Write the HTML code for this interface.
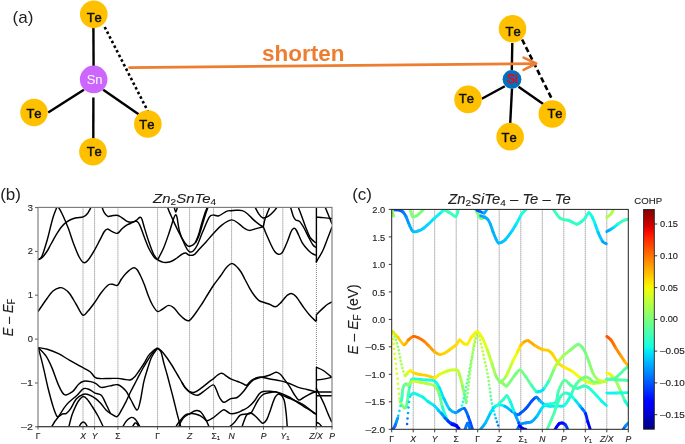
<!DOCTYPE html>
<html><head><meta charset="utf-8"><style>
html,body{margin:0;padding:0;background:#fff;}
svg{display:block;will-change:transform;}
text{font-family:"Liberation Sans",sans-serif;}
text.mt{stroke:#222;stroke-width:0.12px;}
</style></head><body>
<svg width="685" height="444" viewBox="0 0 685 444">
<rect width="685" height="444" fill="#fff"/>
<text x="12.6" y="23.3" font-size="17" fill="#222">(a)</text>
<g stroke="#000" stroke-width="2.4" stroke-linecap="butt" fill="none">
<line x1="93.4" y1="27" x2="93.6" y2="66"/>
<line x1="83.9" y1="89.7" x2="48.2" y2="112.5"/>
<line x1="93.4" y1="97.4" x2="93.3" y2="139"/>
<line x1="103.2" y1="89.7" x2="138.6" y2="114.2"/>
</g>
<line x1="104.7" y1="27" x2="148" y2="111.5" stroke="#000" stroke-width="2.6" stroke-dasharray="2.6 2.6"/>
<text x="262" y="60.8" font-size="22.5" font-weight="bold" fill="#ED7D31">shorten</text>
<circle cx="93.75" cy="14.35" r="13.80" fill="#FFC000"/>
<text x="94.25" y="21.51" font-size="13.0" fill="#111" text-anchor="middle" style="font-kerning:none" stroke="#111" stroke-width="0.45">Te</text>
<circle cx="93.65" cy="79.40" r="13.80" fill="#CC66FF"/>
<text x="94.60" y="84.41" font-size="13.0" fill="#fff" text-anchor="middle" style="font-kerning:none">Sn</text>
<circle cx="34.00" cy="112.50" r="13.75" fill="#FFC000"/>
<text x="34.00" y="117.71" font-size="13.0" fill="#111" text-anchor="middle" style="font-kerning:none" stroke="#111" stroke-width="0.45">Te</text>
<circle cx="92.95" cy="151.75" r="13.80" fill="#FFC000"/>
<text x="94.25" y="156.31" font-size="13.0" fill="#111" text-anchor="middle" style="font-kerning:none" stroke="#111" stroke-width="0.45">Te</text>
<circle cx="147.85" cy="123.95" r="13.80" fill="#FFC000"/>
<text x="146.95" y="129.41" font-size="13.0" fill="#111" text-anchor="middle" style="font-kerning:none" stroke="#111" stroke-width="0.45">Te</text>
<g stroke="#000" stroke-width="2.4" fill="none">
<line x1="512.3" y1="43" x2="511.8" y2="70"/>
<line x1="504.8" y1="86.2" x2="481.8" y2="98.8"/>
<line x1="512" y1="88.5" x2="510.2" y2="123.5"/>
<line x1="518.5" y1="86.7" x2="543.2" y2="104.1"/>
</g>
<line x1="522.1" y1="39.5" x2="552.2" y2="99.6" stroke="#000" stroke-width="2.6" stroke-dasharray="5.5 3"/>
<g stroke="#ED7D31" stroke-width="2.6" fill="none" stroke-linecap="round" stroke-linejoin="round">
<line x1="129.5" y1="67.6" x2="535" y2="63.6"/>
<polyline points="523.6,57.6 536.2,63.5 523.6,69.8"/>
</g>
<circle cx="512.50" cy="28.75" r="13.80" fill="#FFC000"/>
<text x="513.10" y="36.01" font-size="13.0" fill="#111" text-anchor="middle" style="font-kerning:none" stroke="#111" stroke-width="0.45">Te</text>
<circle cx="512.00" cy="79.30" r="9.40" fill="#0070C0"/>
<text x="512.15" y="83.04" font-size="12.4" fill="#FF0000" text-anchor="middle" style="font-kerning:none" stroke="#FF0000" stroke-width="0.45">Si</text>
<circle cx="468.05" cy="99.40" r="13.80" fill="#FFC000"/>
<text x="466.35" y="103.41" font-size="13.0" fill="#111" text-anchor="middle" style="font-kerning:none" stroke="#111" stroke-width="0.45">Te</text>
<circle cx="510.15" cy="136.65" r="13.80" fill="#FFC000"/>
<text x="509.20" y="142.41" font-size="13.0" fill="#111" text-anchor="middle" style="font-kerning:none" stroke="#111" stroke-width="0.45">Te</text>
<circle cx="552.30" cy="113.95" r="13.80" fill="#FFC000"/>
<text x="555.00" y="117.61" font-size="13.0" fill="#111" text-anchor="middle" style="font-kerning:none" stroke="#111" stroke-width="0.45">Te</text>
<text x="0.2" y="199.8" font-size="17" fill="#222">(b)</text>
<text class="mt" x="153.1" y="202.8" font-size="13.6" font-style="italic" fill="#222" textLength="63.1" lengthAdjust="spacingAndGlyphs">Zn<tspan font-size="9.2" dy="2.4" font-style="normal">2</tspan><tspan dy="-2.4">SnTe</tspan><tspan font-size="9.2" dy="2.4" font-style="normal">4</tspan></text>
<text class="mt" transform="translate(12.9,317.5) rotate(-90)" font-size="14" font-style="italic" text-anchor="middle" fill="#222" textLength="37.5" lengthAdjust="spacingAndGlyphs">E <tspan font-style="normal">–</tspan> E<tspan font-size="10" dy="2.2" font-style="normal">F</tspan></text>
<g stroke="#444" stroke-width="0.7" stroke-dasharray="1 1">
<line x1="83.0" y1="207.4" x2="83.0" y2="426.6"/>
<line x1="94.6" y1="207.4" x2="94.6" y2="426.6"/>
<line x1="117.9" y1="207.4" x2="117.9" y2="426.6"/>
<line x1="157.6" y1="207.4" x2="157.6" y2="426.6"/>
<line x1="189.6" y1="207.4" x2="189.6" y2="426.6"/>
<line x1="213.6" y1="207.4" x2="213.6" y2="426.6"/>
<line x1="231.6" y1="207.4" x2="231.6" y2="426.6"/>
<line x1="263.5" y1="207.4" x2="263.5" y2="426.6"/>
<line x1="282.8" y1="207.4" x2="282.8" y2="426.6"/>
<line x1="316.4" y1="262" x2="316.4" y2="367"/>
</g>
<text class="mt" x="38.0" y="438.6" font-size="8.6" text-anchor="middle" fill="#222">Γ</text>
<text class="mt" x="83.0" y="438.6" font-size="8.6" text-anchor="middle" fill="#222" font-style="italic">X</text>
<text class="mt" x="94.6" y="438.6" font-size="8.6" text-anchor="middle" fill="#222" font-style="italic">Y</text>
<text class="mt" x="117.9" y="438.6" font-size="8.6" text-anchor="middle" fill="#222">Σ</text>
<text class="mt" x="157.6" y="438.6" font-size="8.6" text-anchor="middle" fill="#222">Γ</text>
<text class="mt" x="189.6" y="438.6" font-size="8.6" text-anchor="middle" fill="#222" font-style="italic">Z</text>
<text class="mt" x="215.8" y="438.6" font-size="8.6" text-anchor="middle" fill="#222">Σ<tspan font-size="6.2" dy="1.8" font-style="normal">1</tspan></text>
<text class="mt" x="231.6" y="438.6" font-size="8.6" text-anchor="middle" fill="#222" font-style="italic">N</text>
<text class="mt" x="263.5" y="438.6" font-size="8.6" text-anchor="middle" fill="#222" font-style="italic">P</text>
<text class="mt" x="285.0" y="438.6" font-size="8.6" text-anchor="middle" fill="#222" font-style="italic">Y<tspan font-size="6.2" dy="1.8" font-style="normal">1</tspan></text>
<text class="mt" x="316.0" y="438.6" font-size="8.6" text-anchor="middle" fill="#222" font-style="italic">Z/X</text>
<text class="mt" x="332.0" y="438.6" font-size="8.6" text-anchor="middle" fill="#222" font-style="italic">P</text>
<text class="mt" x="32.9" y="210.6" font-size="8.4" text-anchor="end" fill="#222" textLength="5.2" lengthAdjust="spacingAndGlyphs">3</text>
<line x1="35" y1="207.6" x2="38" y2="207.6" stroke="#333" stroke-width="0.8"/>
<text class="mt" x="32.9" y="254.4" font-size="8.4" text-anchor="end" fill="#222" textLength="5.2" lengthAdjust="spacingAndGlyphs">2</text>
<line x1="35" y1="251.4" x2="38" y2="251.4" stroke="#333" stroke-width="0.8"/>
<text class="mt" x="32.9" y="298.2" font-size="8.4" text-anchor="end" fill="#222" textLength="5.2" lengthAdjust="spacingAndGlyphs">1</text>
<line x1="35" y1="295.2" x2="38" y2="295.2" stroke="#333" stroke-width="0.8"/>
<text class="mt" x="32.9" y="342.1" font-size="8.4" text-anchor="end" fill="#222" textLength="5.2" lengthAdjust="spacingAndGlyphs">0</text>
<line x1="35" y1="339.1" x2="38" y2="339.1" stroke="#333" stroke-width="0.8"/>
<text class="mt" x="32.9" y="386.0" font-size="8.4" text-anchor="end" fill="#222" textLength="11.9" lengthAdjust="spacingAndGlyphs">–1</text>
<line x1="35" y1="383.0" x2="38" y2="383.0" stroke="#333" stroke-width="0.8"/>
<text class="mt" x="32.9" y="429.8" font-size="8.4" text-anchor="end" fill="#222" textLength="11.9" lengthAdjust="spacingAndGlyphs">–2</text>
<line x1="35" y1="426.8" x2="38" y2="426.8" stroke="#333" stroke-width="0.8"/>
<line x1="38.0" y1="426.6" x2="38.0" y2="429.6" stroke="#333" stroke-width="0.8"/>
<line x1="83.0" y1="426.6" x2="83.0" y2="429.6" stroke="#333" stroke-width="0.8"/>
<line x1="94.6" y1="426.6" x2="94.6" y2="429.6" stroke="#333" stroke-width="0.8"/>
<line x1="117.9" y1="426.6" x2="117.9" y2="429.6" stroke="#333" stroke-width="0.8"/>
<line x1="157.6" y1="426.6" x2="157.6" y2="429.6" stroke="#333" stroke-width="0.8"/>
<line x1="189.6" y1="426.6" x2="189.6" y2="429.6" stroke="#333" stroke-width="0.8"/>
<line x1="213.6" y1="426.6" x2="213.6" y2="429.6" stroke="#333" stroke-width="0.8"/>
<line x1="231.6" y1="426.6" x2="231.6" y2="429.6" stroke="#333" stroke-width="0.8"/>
<line x1="263.5" y1="426.6" x2="263.5" y2="429.6" stroke="#333" stroke-width="0.8"/>
<line x1="282.8" y1="426.6" x2="282.8" y2="429.6" stroke="#333" stroke-width="0.8"/>
<line x1="316.0" y1="426.6" x2="316.0" y2="429.6" stroke="#333" stroke-width="0.8"/>
<line x1="332.0" y1="426.6" x2="332.0" y2="429.6" stroke="#333" stroke-width="0.8"/>
<defs><clipPath id="cb"><rect x="38.0" y="207.4" width="294.0" height="219.2"/></clipPath>
<clipPath id="cc"><rect x="391.7" y="209.4" width="236.6" height="219.9"/></clipPath>
<linearGradient id="jetg" x1="0" y1="0" x2="0" y2="1"><stop offset="0.000" stop-color="#800000"/><stop offset="0.025" stop-color="#9c0000"/><stop offset="0.050" stop-color="#b90000"/><stop offset="0.075" stop-color="#d60000"/><stop offset="0.100" stop-color="#f30900"/><stop offset="0.125" stop-color="#ff2100"/><stop offset="0.150" stop-color="#ff3900"/><stop offset="0.175" stop-color="#ff5000"/><stop offset="0.200" stop-color="#ff6800"/><stop offset="0.225" stop-color="#ff8000"/><stop offset="0.250" stop-color="#ff9700"/><stop offset="0.275" stop-color="#ffaf00"/><stop offset="0.300" stop-color="#ffc600"/><stop offset="0.325" stop-color="#ffde00"/><stop offset="0.350" stop-color="#f7f600"/><stop offset="0.375" stop-color="#e2ff15"/><stop offset="0.400" stop-color="#ceff29"/><stop offset="0.425" stop-color="#b9ff3e"/><stop offset="0.450" stop-color="#a5ff52"/><stop offset="0.475" stop-color="#90ff67"/><stop offset="0.500" stop-color="#7bff7b"/><stop offset="0.525" stop-color="#67ff90"/><stop offset="0.550" stop-color="#52ffa5"/><stop offset="0.575" stop-color="#3effb9"/><stop offset="0.600" stop-color="#29ffce"/><stop offset="0.625" stop-color="#15ffe2"/><stop offset="0.650" stop-color="#00e5f7"/><stop offset="0.675" stop-color="#00ccff"/><stop offset="0.700" stop-color="#00b2ff"/><stop offset="0.725" stop-color="#0099ff"/><stop offset="0.750" stop-color="#0080ff"/><stop offset="0.775" stop-color="#0066ff"/><stop offset="0.800" stop-color="#004dff"/><stop offset="0.825" stop-color="#0033ff"/><stop offset="0.850" stop-color="#0019ff"/><stop offset="0.875" stop-color="#0000ff"/><stop offset="0.900" stop-color="#0000f3"/><stop offset="0.925" stop-color="#0000d6"/><stop offset="0.950" stop-color="#0000b9"/><stop offset="0.975" stop-color="#00009c"/><stop offset="1.000" stop-color="#000080"/></linearGradient>
</defs>
<g clip-path="url(#cb)" fill="none" stroke="#000" stroke-width="1.45" stroke-linejoin="round">
<path d="M37.9 259.7 C38.2 259.6 39.3 259.4 40.0 258.8 C40.7 258.2 41.3 257.4 42.0 256.0 C42.7 254.6 43.1 253.3 44.0 250.5 C44.9 247.7 46.3 243.2 47.5 239.0 C48.7 234.8 50.0 228.8 51.0 225.0 C52.0 221.2 52.6 218.7 53.5 216.0 C54.4 213.3 55.7 210.1 56.3 208.6 C56.9 207.1 56.8 207.1 57.2 207.0 C57.7 206.9 58.0 206.7 59.0 208.2 C60.0 209.7 61.4 212.4 63.0 215.8 C64.6 219.2 66.6 223.9 68.4 228.6 C70.2 233.3 72.0 239.5 73.8 244.2 C75.6 248.9 77.6 254.0 79.2 257.0 C80.8 260.0 82.0 261.7 83.3 262.4 C84.6 263.1 85.5 262.9 87.3 261.0 C89.1 259.1 92.0 254.5 94.1 250.9 C96.2 247.3 98.4 242.8 100.1 239.7 C101.8 236.5 102.8 233.8 104.0 232.0 C105.2 230.2 105.9 229.2 107.2 229.1 C108.5 229.0 110.0 230.6 111.7 231.3 C113.4 232.0 115.8 233.7 117.5 233.3 C119.2 232.9 120.4 230.2 122.0 228.8 C123.6 227.4 125.4 225.9 127.1 224.9 C128.8 223.9 130.8 223.4 132.3 222.7 C133.8 221.9 134.8 221.3 136.1 220.4 C137.4 219.5 139.0 217.4 140.0 217.2 C141.0 217.0 141.2 217.3 141.9 219.1 C142.7 220.9 143.3 224.2 144.5 228.1 C145.7 232.0 147.5 238.0 149.0 242.3 C150.5 246.6 152.0 250.9 153.4 253.8 C154.8 256.7 156.9 258.9 157.6 259.9"/>
<path d="M37.9 259.7 C38.4 259.5 40.0 259.2 41.0 258.5 C42.0 257.8 42.9 256.8 44.0 255.5 C45.1 254.2 46.3 252.4 47.5 250.5 C48.7 248.6 49.5 246.6 51.0 244.0 C52.5 241.4 54.6 237.4 56.3 234.7 C58.0 231.9 59.4 229.5 61.0 227.5 C62.6 225.5 64.0 223.9 65.7 222.6 C67.4 221.3 69.2 220.3 71.0 219.5 C72.8 218.7 74.5 218.2 76.5 217.8 C78.5 217.4 81.5 217.6 83.3 216.9 C85.1 216.2 86.2 215.2 87.5 213.5 C88.8 211.8 90.8 207.7 91.4 206.5"/>
<path d="M101.5 205.5 C101.9 206.6 103.0 210.3 104.0 212.1 C105.0 213.9 106.3 215.7 107.8 216.3 C109.3 216.9 111.3 215.6 113.0 215.5 C114.7 215.4 116.4 215.1 117.9 215.5 C119.4 215.9 120.5 216.8 122.0 217.8 C123.5 218.8 125.6 220.7 127.1 221.4 C128.6 222.2 129.7 222.3 131.0 222.3 C132.3 222.3 133.7 221.5 134.8 221.4 C135.9 221.3 136.5 221.0 137.4 221.7 C138.3 222.4 138.9 223.2 140.0 225.6 C141.1 227.9 142.3 232.0 143.8 235.8 C145.3 239.7 147.3 245.2 149.0 248.7 C150.7 252.2 152.7 255.1 154.1 257.0 C155.5 258.9 157.0 259.4 157.6 259.9"/>
<path d="M174.0 206.3 C174.3 207.2 175.2 212.0 175.8 212.0 C176.4 212.0 177.3 207.2 177.6 206.3"/>
<path d="M167.2 206.0 C167.4 206.6 167.7 207.7 168.5 209.8 C169.3 211.9 170.9 215.4 172.3 218.5 C173.7 221.6 175.3 225.2 177.0 228.6 C178.7 232.0 180.7 236.0 182.4 238.8 C184.1 241.6 185.9 244.3 187.2 245.5 C188.4 246.7 188.7 246.5 189.9 246.2 C191.1 245.9 193.2 245.3 194.6 243.5 C196.0 241.7 197.2 238.5 198.3 235.5 C199.4 232.5 200.2 228.8 201.2 225.3 C202.2 221.8 203.6 217.2 204.5 214.5 C205.4 211.8 206.1 210.4 206.6 209.0 C207.1 207.6 207.4 206.5 207.6 206.0"/>
<path d="M195.5 243.0 C196.1 241.8 197.7 238.8 198.8 236.0 C199.9 233.2 200.9 229.5 202.0 226.0 C203.1 222.5 204.4 217.8 205.3 215.0 C206.2 212.2 206.9 210.5 207.4 209.0 C207.9 207.5 208.2 206.5 208.4 206.0"/>
<path d="M157.6 259.9 C158.6 257.9 161.6 252.6 163.5 248.2 C165.4 243.8 167.4 237.8 168.9 233.4 C170.4 229.0 171.6 224.9 172.5 222.0 C173.4 219.1 174.0 217.4 174.6 216.2 C175.2 215.0 175.4 214.6 175.8 214.8 C176.2 215.0 176.3 214.3 177.0 217.2 C177.7 220.1 178.3 227.3 179.7 232.0 C181.0 236.7 183.5 242.2 185.1 245.5 C186.7 248.8 187.8 250.7 189.2 251.6 C190.5 252.5 191.8 252.1 193.2 251.0 C194.6 249.9 195.9 248.0 197.5 244.8 C199.1 241.6 200.6 236.6 202.6 232.0 C204.6 227.4 207.5 220.0 209.3 217.2 C211.1 214.4 211.8 215.3 213.4 215.1 C215.0 214.9 216.6 216.5 218.8 215.8 C221.1 215.1 224.8 211.9 226.9 211.1 C229.0 210.2 230.1 210.8 231.6 210.7 C233.1 210.6 234.2 210.3 236.0 210.3 C237.8 210.3 240.5 210.0 242.4 210.6 C244.3 211.2 245.5 212.1 247.4 213.7 C249.3 215.2 251.5 218.1 253.6 219.9 C255.7 221.8 258.2 223.7 259.8 224.8 C261.4 225.9 262.7 226.4 263.3 226.7"/>
<path d="M157.6 259.9 C158.6 260.3 161.4 262.1 163.5 262.4 C165.6 262.7 168.1 262.5 170.3 261.8 C172.6 261.1 175.1 259.2 177.0 258.0 C178.9 256.8 180.1 255.3 181.5 254.5 C182.9 253.7 184.2 252.9 185.5 253.0 C186.8 253.1 188.1 255.1 189.6 255.3 C191.1 255.5 193.1 255.2 194.6 254.3 C196.1 253.4 196.6 252.1 198.5 250.0 C200.4 247.9 203.5 244.8 206.0 242.0 C208.5 239.2 210.8 236.3 213.4 233.5 C216.0 230.7 218.5 227.6 221.5 225.3 C224.5 223.0 228.7 220.1 231.6 219.9 C234.5 219.7 236.9 222.6 239.0 223.9 C241.1 225.2 242.3 226.9 244.0 228.0 C245.7 229.1 247.3 230.3 249.3 230.4 C251.3 230.5 253.8 229.2 256.1 228.6 C258.4 228.0 262.1 227.0 263.3 226.7"/>
<path d="M263.3 226.7 C263.6 225.6 264.2 221.9 264.8 219.9 C265.4 217.9 265.9 216.8 266.6 214.9 C267.3 213.0 268.5 210.2 269.1 208.7 C269.7 207.2 269.9 206.4 270.0 206.0"/>
<path d="M263.3 226.7 C263.8 227.8 264.7 230.5 266.0 233.5 C267.3 236.5 269.6 241.7 271.0 244.7 C272.4 247.7 273.5 249.9 274.7 251.5 C275.9 253.1 277.2 254.1 278.4 254.3 C279.6 254.5 280.7 254.7 282.1 252.7 C283.6 250.7 285.7 245.6 287.1 242.2 C288.6 238.8 289.8 234.6 290.8 232.3 C291.8 230.0 292.4 229.0 293.3 228.6 C294.2 228.2 294.7 227.6 296.2 230.0 C297.7 232.4 300.2 239.3 302.3 242.8 C304.4 246.3 307.2 249.1 309.0 251.0 C310.8 252.9 311.8 253.3 313.0 254.0 C314.2 254.7 315.5 255.1 316.0 255.3"/>
<path d="M254.5 206.0 C255.2 207.3 257.2 211.7 258.6 213.7 C260.0 215.7 261.2 217.6 262.9 218.0 C264.5 218.4 266.8 217.2 268.5 216.2 C270.2 215.2 271.8 213.5 273.4 211.8 C275.0 210.1 277.2 207.0 278.0 206.0"/>
<path d="M290.2 206.0 C290.7 207.7 292.4 213.9 293.3 216.2 C294.2 218.5 294.8 219.1 295.8 220.0 C296.9 220.9 298.2 220.2 299.6 221.5 C301.0 222.8 302.4 225.2 304.0 228.0 C305.6 230.8 307.5 235.2 309.0 238.0 C310.5 240.8 311.8 243.4 313.0 245.0 C314.2 246.6 315.5 247.1 316.0 247.5"/>
<path d="M297.8 206.0 C298.5 207.8 300.6 213.2 302.0 217.0 C303.4 220.8 305.0 225.5 306.4 229.0 C307.8 232.5 308.9 235.7 310.5 238.0 C312.1 240.3 315.1 242.2 316.0 243.0"/>
<path d="M316.0 217.2 C317.2 217.3 320.3 217.4 323.0 217.6 C325.7 217.8 330.5 218.3 332.0 218.5"/>
<path d="M324.6 206.0 C325.2 207.3 326.8 211.0 328.0 214.0 C329.2 217.0 331.3 222.3 332.0 224.0"/>
<path d="M316.0 262.4 C317.1 260.5 320.8 254.7 322.6 251.0 C324.4 247.3 325.4 244.0 327.0 240.0 C328.6 236.0 331.2 229.2 332.0 227.0"/>
<path d="M38.0 311.7 C39.5 309.4 44.7 301.6 47.2 298.2 C49.7 294.8 50.9 292.8 53.0 291.0 C55.1 289.2 57.7 288.0 59.6 287.7 C61.5 287.4 62.8 288.0 64.5 289.0 C66.2 290.0 67.8 291.2 69.7 293.7 C71.6 296.2 73.8 300.4 76.0 304.0 C78.2 307.6 80.8 313.9 82.8 315.1 C84.8 316.3 86.0 313.1 88.0 311.0 C90.0 308.9 92.3 305.7 94.5 302.7 C96.7 299.7 98.8 295.9 101.0 293.0 C103.2 290.1 106.0 286.7 107.9 285.2 C109.8 283.7 110.9 284.2 112.5 284.2 C114.1 284.2 115.9 286.3 117.4 285.4 C118.9 284.5 120.1 281.0 121.5 279.0 C122.9 277.0 124.0 275.4 125.9 273.5 C127.8 271.6 131.2 268.6 133.1 267.9 C134.9 267.2 135.8 268.2 137.0 269.5 C138.2 270.8 139.2 273.1 140.5 275.7 C141.8 278.3 143.2 281.6 144.5 285.0 C145.8 288.4 147.1 292.7 148.4 296.0 C149.7 299.3 151.0 302.4 152.5 305.0 C154.0 307.6 155.8 310.6 157.4 311.3 C159.0 312.1 160.1 310.5 162.0 309.5 C163.9 308.5 166.6 305.6 168.6 305.4 C170.6 305.1 172.1 306.4 174.0 308.0 C175.9 309.6 178.1 313.2 179.9 315.1 C181.7 317.0 183.4 318.6 185.0 319.5 C186.6 320.4 187.7 321.4 189.4 320.5 C191.1 319.6 192.8 316.9 195.0 314.0 C197.2 311.1 200.3 306.3 202.5 303.0 C204.7 299.7 206.1 297.0 208.0 294.0 C209.9 291.0 211.6 288.0 213.7 285.0 C215.8 282.0 218.4 278.8 220.5 276.0 C222.6 273.2 224.2 270.1 226.0 268.0 C227.8 265.9 229.7 264.0 231.3 263.6 C232.9 263.2 233.9 264.2 235.5 265.5 C237.1 266.8 239.1 269.2 240.7 271.5 C242.3 273.8 243.5 276.7 245.0 279.5 C246.5 282.3 248.2 285.7 249.7 288.3 C251.2 290.9 252.5 293.0 254.0 295.0 C255.5 297.0 257.0 299.1 258.7 300.3 C260.4 301.6 262.4 301.8 264.3 302.5 C266.2 303.2 268.1 303.8 270.0 304.5 C271.9 305.2 273.8 307.0 275.5 306.8 C277.2 306.6 278.7 304.7 280.0 303.5 C281.3 302.3 282.2 300.9 283.4 299.6 C284.6 298.3 285.7 296.5 287.0 295.5 C288.3 294.5 289.8 293.3 291.3 293.5 C292.8 293.7 293.9 294.2 296.0 296.5 C298.1 298.8 301.3 304.2 303.6 307.4 C305.9 310.6 307.9 313.2 310.0 315.5 C312.1 317.8 315.0 320.4 316.0 321.4"/>
<path d="M316.0 315.3 C316.6 314.7 318.2 312.8 319.5 311.5 C320.8 310.2 322.5 308.6 323.9 307.4 C325.3 306.1 326.6 304.9 328.0 304.0 C329.4 303.1 331.3 302.2 332.0 301.8"/>
<path d="M38.3 347.6 C39.8 347.9 43.9 348.2 47.3 349.2 C50.7 350.2 54.8 351.8 58.5 353.7 C62.2 355.6 66.0 358.2 69.8 360.4 C73.6 362.6 77.7 364.8 81.1 366.7 C84.5 368.6 87.8 369.9 90.1 371.7 C92.4 373.5 93.2 376.1 95.0 377.3 C96.8 378.5 98.5 378.4 101.0 378.6 C103.5 378.8 107.2 378.4 110.0 378.4 C112.8 378.4 115.6 378.3 117.9 378.4 C120.2 378.5 121.9 378.9 124.0 379.2 C126.1 379.5 128.5 380.4 130.3 380.0 C132.1 379.6 133.5 378.1 135.0 376.5 C136.5 374.9 137.8 372.7 139.3 370.5 C140.8 368.3 142.5 365.9 144.0 363.5 C145.5 361.1 146.8 358.0 148.3 355.9 C149.8 353.8 151.5 352.3 153.0 351.0 C154.5 349.7 156.7 348.5 157.4 348.0"/>
<path d="M38.3 347.6 C39.6 349.0 43.8 352.7 46.1 356.2 C48.4 359.7 50.2 363.7 52.2 368.4 C54.2 373.1 56.3 380.2 58.3 384.6 C60.3 389.0 62.0 393.5 64.4 394.7 C66.8 395.9 70.1 393.4 72.5 391.7 C74.9 389.9 76.8 385.9 78.6 384.2 C80.4 382.4 81.6 381.6 83.6 381.2 C85.6 380.8 88.6 381.2 90.7 381.6 C92.8 382.0 94.2 382.6 96.0 383.6 C97.8 384.6 99.0 387.0 101.3 387.4 C103.6 387.8 107.2 386.3 110.0 385.9 C112.8 385.5 115.3 384.0 117.9 384.8 C120.5 385.6 123.6 388.3 125.8 390.8 C128.0 393.3 129.1 396.8 131.0 400.0 C132.9 403.2 135.4 410.0 137.0 410.0 C138.6 410.0 139.4 404.7 140.5 400.0 C141.6 395.3 142.6 387.0 143.8 381.8 C145.0 376.6 146.2 373.1 147.5 369.0 C148.8 364.9 150.0 360.4 151.7 357.0 C153.3 353.6 156.4 349.9 157.4 348.5"/>
<path d="M38.3 347.6 C39.1 350.7 41.5 359.5 43.1 366.4 C44.8 373.2 46.5 381.9 48.2 388.7 C49.9 395.4 51.7 402.2 53.2 406.9 C54.7 411.5 55.8 415.4 57.3 416.6 C58.8 417.8 60.9 414.5 62.4 414.0 C63.9 413.5 65.1 414.2 66.4 413.4 C67.8 412.5 68.8 411.3 70.5 408.9 C72.2 406.5 74.3 401.2 76.5 398.8 C78.7 396.4 81.6 395.0 83.6 394.3 C85.6 393.6 86.6 393.9 88.7 394.7 C90.8 395.4 93.9 397.2 96.0 398.8 C98.1 400.4 99.6 402.1 101.3 404.0 C103.0 405.9 104.5 408.4 106.0 410.0 C107.5 411.6 108.6 412.2 110.4 413.3 C112.2 414.4 115.0 417.1 116.8 416.7 C118.6 416.3 119.5 413.4 121.0 411.0 C122.5 408.6 124.1 405.4 125.8 402.1 C127.5 398.8 129.1 394.8 131.0 391.0 C132.9 387.2 135.1 383.2 137.0 379.5 C138.9 375.8 140.6 372.4 142.5 369.0 C144.4 365.6 146.6 362.1 148.3 359.3 C150.1 356.6 151.5 354.4 153.0 352.5 C154.5 350.6 156.7 348.8 157.4 348.0"/>
<path d="M51.2 427.5 C51.8 426.6 53.3 423.8 54.5 422.0 C55.7 420.2 56.3 419.9 58.3 417.0 C60.3 414.1 63.4 408.4 66.4 404.9 C69.4 401.3 73.6 398.4 76.5 395.7 C79.4 393.0 81.4 389.7 83.6 388.7 C85.8 387.7 87.8 389.0 89.7 389.7 C91.6 390.4 93.1 392.2 95.0 393.1 C96.9 394.0 99.5 393.5 101.3 395.3 C103.1 397.1 104.5 401.0 106.0 404.0 C107.5 407.0 109.7 411.8 110.4 413.3"/>
<path d="M68.7 427.5 C69.2 425.4 70.7 418.9 72.0 415.0 C73.3 411.1 75.2 407.1 76.5 404.4 C77.8 401.7 78.9 400.3 80.0 399.0 C81.1 397.7 82.1 396.5 83.3 396.5 C84.5 396.5 85.5 397.3 87.0 399.0 C88.5 400.7 90.5 403.8 92.3 406.6 C94.1 409.4 96.1 412.5 98.0 416.0 C99.9 419.5 102.7 425.6 103.6 427.5"/>
<path d="M78.8 427.5 C79.2 426.8 80.2 424.4 81.0 423.5 C81.8 422.6 82.5 421.9 83.3 421.9 C84.0 421.9 84.8 422.6 85.5 423.5 C86.2 424.4 87.4 426.8 87.8 427.5"/>
<path d="M122.4 427.5 C123.0 426.5 124.5 423.2 126.0 421.5 C127.5 419.8 129.8 417.7 131.4 417.4 C133.0 417.1 134.0 417.8 135.5 419.5 C137.0 421.2 139.6 426.2 140.4 427.5"/>
<path d="M132.0 427.5 C132.5 426.8 134.1 423.5 135.0 423.0 C135.9 422.5 136.8 423.8 137.5 424.5 C138.2 425.2 138.8 427.0 139.0 427.5"/>
<path d="M157.4 348.0 C158.1 348.5 160.0 349.5 161.5 351.0 C163.0 352.5 164.6 354.6 166.3 357.0 C168.1 359.4 170.1 362.5 172.0 365.5 C173.9 368.5 175.9 372.2 177.6 375.0 C179.3 377.8 180.7 380.4 182.0 382.5 C183.3 384.6 184.0 386.3 185.3 387.8 C186.6 389.3 188.2 390.9 189.7 391.6 C191.2 392.4 192.7 392.8 194.5 392.3 C196.3 391.8 198.4 390.1 200.8 388.4 C203.2 386.7 206.6 383.7 208.7 382.1 C210.8 380.5 212.0 380.0 213.4 378.9 C214.8 377.8 215.8 376.4 217.0 375.5 C218.2 374.6 219.4 373.7 220.5 373.4 C221.6 373.1 222.6 373.4 223.5 373.8 C224.4 374.2 224.8 375.0 226.0 375.8 C227.2 376.6 228.8 378.0 230.7 378.9 C232.5 379.8 235.2 380.6 237.1 381.3 C239.0 382.0 240.4 382.6 242.0 383.2 C243.6 383.8 245.0 385.6 246.5 385.2 C248.0 384.8 249.3 381.8 251.2 380.5 C253.0 379.2 255.6 378.0 257.6 377.4 C259.6 376.8 260.9 377.3 263.0 376.9 C265.1 376.5 267.8 375.8 270.0 375.0 C272.2 374.2 274.3 372.5 276.0 372.3 C277.7 372.1 278.9 373.2 280.0 374.0 C281.1 374.8 281.2 375.2 282.8 377.3 C284.4 379.4 287.6 383.5 289.5 386.3 C291.4 389.1 292.5 391.8 294.0 394.0 C295.5 396.2 297.0 399.1 298.5 399.8 C300.0 400.5 301.5 398.8 303.0 398.0 C304.5 397.2 306.0 396.1 307.5 395.3 C309.0 394.5 310.6 393.6 312.0 393.0 C313.4 392.4 315.4 392.1 316.1 391.9"/>
<path d="M157.4 348.0 C158.0 348.7 159.9 349.4 161.0 352.0 C162.1 354.6 162.9 359.8 164.0 363.8 C165.1 367.8 166.4 371.9 167.5 376.0 C168.6 380.1 169.7 384.4 170.8 388.6 C171.9 392.8 172.9 396.5 174.0 401.0 C175.1 405.5 176.4 411.2 177.6 415.6 C178.8 420.0 180.4 425.5 181.0 427.5"/>
<path d="M182.0 382.5 C182.6 383.4 184.0 386.2 185.3 387.8 C186.6 389.4 188.3 391.2 189.7 392.3 C191.1 393.4 192.1 393.9 193.5 394.3 C194.9 394.8 196.4 395.7 198.4 395.0 C200.4 394.3 203.1 391.7 205.5 390.0 C207.9 388.3 211.3 385.1 213.1 384.9 C214.8 384.7 215.0 387.1 216.0 389.0 C217.0 390.9 218.0 394.4 218.9 396.3 C219.8 398.2 220.6 399.5 221.5 400.5 C222.4 401.5 222.9 402.6 224.4 402.3 C225.9 402.0 228.6 399.4 230.7 398.6 C232.8 397.8 235.0 398.7 237.1 397.5 C239.2 396.3 241.6 393.6 243.4 391.5 C245.2 389.4 246.5 387.0 248.1 385.2 C249.7 383.4 251.0 381.8 252.8 380.5 C254.6 379.2 257.4 378.2 259.1 377.7 C260.8 377.2 261.2 377.3 263.0 377.5 C264.8 377.7 267.8 378.6 270.0 379.0 C272.2 379.4 273.9 379.6 276.0 380.0 C278.1 380.4 280.5 380.8 282.8 381.4 C285.1 382.0 287.4 382.8 290.0 383.8 C292.6 384.8 295.7 386.4 298.5 387.4 C301.3 388.3 304.1 388.8 307.0 389.5 C309.9 390.2 314.6 391.5 316.1 391.9"/>
<path d="M175.3 427.5 C175.9 426.6 177.4 424.1 179.0 422.0 C180.6 419.9 183.2 416.6 185.0 415.2 C186.8 413.8 188.2 414.3 189.7 413.6 C191.2 412.9 192.8 411.7 194.0 411.2 C195.2 410.7 195.7 410.4 196.8 410.5 C197.9 410.6 199.4 410.6 200.8 412.0 C202.2 413.4 204.1 416.6 205.5 419.2 C206.9 421.8 208.8 426.1 209.4 427.5"/>
<path d="M178.5 427.5 C178.9 426.5 179.9 423.3 181.0 421.5 C182.1 419.7 183.3 417.8 185.0 416.5 C186.7 415.2 188.9 413.8 191.3 413.6 C193.7 413.4 197.1 414.4 199.2 415.2 C201.3 416.0 202.7 417.6 204.0 418.5 C205.3 419.4 205.5 420.8 207.1 420.7 C208.7 420.6 211.4 418.9 213.4 417.6 C215.4 416.3 217.3 414.3 219.0 413.0 C220.7 411.7 222.3 409.9 223.6 409.7 C224.9 409.4 225.8 410.9 227.0 411.5 C228.2 412.1 229.0 413.4 230.7 413.6 C232.4 413.8 235.0 413.4 237.1 412.8 C239.2 412.2 241.2 410.9 243.0 410.0 C244.8 409.1 246.2 408.8 248.1 407.3 C250.0 405.8 252.6 403.2 254.4 401.0 C256.2 398.8 257.7 395.5 259.1 393.9 C260.5 392.3 261.2 391.9 263.0 391.5 C264.8 391.1 267.1 391.0 270.0 391.3 C272.9 391.6 277.2 392.1 280.5 393.1 C283.8 394.1 287.0 395.8 290.0 397.5 C293.0 399.2 295.7 401.4 298.5 403.2 C301.3 405.0 304.1 406.7 307.0 408.5 C309.9 410.3 314.6 412.9 316.1 413.8"/>
<path d="M228.4 427.5 C229.3 426.8 231.9 425.2 233.9 423.1 C235.9 421.1 238.1 416.7 240.2 415.2 C242.3 413.7 244.7 414.4 246.5 414.0 C248.3 413.6 249.3 415.0 251.2 412.8 C253.0 410.6 255.6 404.1 257.6 401.0 C259.6 397.9 260.9 395.9 263.0 394.5 C265.1 393.1 267.8 392.9 270.0 392.5 C272.2 392.1 273.9 391.4 276.0 391.9 C278.1 392.4 280.5 394.2 282.8 395.3 C285.1 396.4 287.4 397.6 290.0 398.7 C292.6 399.8 295.8 400.8 298.5 402.1 C301.2 403.4 303.4 404.6 306.0 406.5 C308.6 408.4 312.6 412.1 314.3 413.3 C316.0 414.5 315.8 413.7 316.1 413.8"/>
<path d="M241.8 427.5 C242.2 426.4 243.2 423.1 244.0 421.0 C244.8 418.9 245.4 416.6 246.5 415.2 C247.6 413.8 248.9 412.5 250.5 412.8 C252.1 413.1 254.4 415.4 256.0 416.8 C257.6 418.2 258.8 419.9 260.0 421.0 C261.2 422.1 261.9 423.5 263.0 423.3 C264.1 423.1 265.4 421.7 266.5 420.0 C267.6 418.3 267.9 417.0 269.3 413.3 C270.7 409.6 273.2 400.8 274.9 397.6 C276.6 394.4 277.9 393.8 279.4 394.2 C280.9 394.6 282.9 396.8 284.0 399.8 C285.1 402.8 285.4 407.4 286.0 412.0 C286.6 416.6 287.1 424.9 287.3 427.5"/>
<path d="M316.1 367.2 C317.3 367.8 320.7 368.8 323.3 370.5 C325.9 372.2 330.5 376.2 331.9 377.3"/>
<path d="M316.1 380.0 C317.3 379.9 320.7 379.6 323.3 379.1 C325.9 378.7 330.5 377.6 331.9 377.3"/>
<path d="M316.1 391.9 C318.7 391.9 329.3 391.9 331.9 391.9"/>
<path d="M316.1 395.8 C318.7 395.8 329.3 395.8 331.9 395.8"/>
<path d="M316.1 388.1 C316.9 389.7 319.6 394.8 321.0 397.6 C322.4 400.4 323.4 402.4 324.5 405.0 C325.6 407.6 326.6 410.4 327.8 413.3 C329.0 416.2 331.2 420.8 331.9 422.3"/>
<path d="M316.1 422.3 C316.6 422.5 318.2 422.9 319.0 423.5 C319.8 424.1 320.5 425.0 321.0 425.7 C321.5 426.4 321.8 427.2 322.0 427.5"/>
</g>
<g stroke="#000" stroke-width="1.4">
<line x1="316.4" y1="207.4" x2="316.4" y2="262.4"/>
<line x1="316.4" y1="315.3" x2="316.4" y2="321.4"/>
<line x1="316.4" y1="367.2" x2="316.4" y2="426.6"/>
</g>
<rect x="38.0" y="207.4" width="294.0" height="219.2" fill="none" stroke="#777" stroke-width="1.1"/>
<line x1="37.5" y1="426.6" x2="332.5" y2="426.6" stroke="#444" stroke-width="1.1"/>
<text x="352.2" y="200.4" font-size="17" fill="#222">(c)</text>
<text class="mt" x="448.2" y="203.9" font-size="13.8" font-style="italic" fill="#222" textLength="122.6" lengthAdjust="spacingAndGlyphs">Zn<tspan font-size="9.4" dy="2.4" font-style="normal">2</tspan><tspan dy="-2.4">SiTe</tspan><tspan font-size="9.4" dy="2.4" font-style="normal">4</tspan><tspan dy="-2.4"> <tspan font-style="normal">–</tspan> Te <tspan font-style="normal">–</tspan> Te</tspan></text>
<text class="mt" transform="translate(358.4,354.6) rotate(-90)" font-size="14" font-style="italic" fill="#222" textLength="70.3" lengthAdjust="spacingAndGlyphs">E <tspan font-style="normal">–</tspan> E<tspan font-size="10" dy="2.2" font-style="normal">F</tspan><tspan dy="-2.2" font-style="normal"> (eV)</tspan></text>
<g stroke="#444" stroke-width="0.7" stroke-dasharray="1 1">
<line x1="413.2" y1="209.4" x2="413.2" y2="429.3"/>
<line x1="434.7" y1="209.4" x2="434.7" y2="429.3"/>
<line x1="456.2" y1="209.4" x2="456.2" y2="429.3"/>
<line x1="477.7" y1="209.4" x2="477.7" y2="429.3"/>
<line x1="499.2" y1="209.4" x2="499.2" y2="429.3"/>
<line x1="520.8" y1="209.4" x2="520.8" y2="429.3"/>
<line x1="542.3" y1="209.4" x2="542.3" y2="429.3"/>
<line x1="563.8" y1="209.4" x2="563.8" y2="429.3"/>
<line x1="585.3" y1="209.4" x2="585.3" y2="429.3"/>
<line x1="606.8" y1="209.4" x2="606.8" y2="429.3"/>
</g>
<text class="mt" x="391.7" y="441.6" font-size="8.6" text-anchor="middle" fill="#222">Γ</text>
<text class="mt" x="413.2" y="441.6" font-size="8.6" text-anchor="middle" fill="#222" font-style="italic">X</text>
<text class="mt" x="434.7" y="441.6" font-size="8.6" text-anchor="middle" fill="#222" font-style="italic">Y</text>
<text class="mt" x="456.2" y="441.6" font-size="8.6" text-anchor="middle" fill="#222">Σ</text>
<text class="mt" x="477.7" y="441.6" font-size="8.6" text-anchor="middle" fill="#222">Γ</text>
<text class="mt" x="499.2" y="441.6" font-size="8.6" text-anchor="middle" fill="#222" font-style="italic">Z</text>
<text class="mt" x="523.0" y="441.6" font-size="8.6" text-anchor="middle" fill="#222">Σ<tspan font-size="6.2" dy="1.8" font-style="normal">1</tspan></text>
<text class="mt" x="542.3" y="441.6" font-size="8.6" text-anchor="middle" fill="#222" font-style="italic">N</text>
<text class="mt" x="563.8" y="441.6" font-size="8.6" text-anchor="middle" fill="#222" font-style="italic">P</text>
<text class="mt" x="587.5" y="441.6" font-size="8.6" text-anchor="middle" fill="#222" font-style="italic">Y<tspan font-size="6.2" dy="1.8" font-style="normal">1</tspan></text>
<text class="mt" x="606.8" y="441.6" font-size="8.6" text-anchor="middle" fill="#222" font-style="italic">Z/X</text>
<text class="mt" x="628.3" y="441.6" font-size="8.6" text-anchor="middle" fill="#222" font-style="italic">P</text>
<text class="mt" x="385.2" y="213.0" font-size="8.4" text-anchor="end" fill="#222" textLength="12.9" lengthAdjust="spacingAndGlyphs">2.0</text>
<line x1="388.8" y1="209.4" x2="391.7" y2="209.4" stroke="#222" stroke-width="0.9"/>
<text class="mt" x="385.2" y="240.5" font-size="8.4" text-anchor="end" fill="#222" textLength="12.9" lengthAdjust="spacingAndGlyphs">1.5</text>
<line x1="388.8" y1="236.9" x2="391.7" y2="236.9" stroke="#222" stroke-width="0.9"/>
<text class="mt" x="385.2" y="268.0" font-size="8.4" text-anchor="end" fill="#222" textLength="12.9" lengthAdjust="spacingAndGlyphs">1.0</text>
<line x1="388.8" y1="264.4" x2="391.7" y2="264.4" stroke="#222" stroke-width="0.9"/>
<text class="mt" x="385.2" y="295.5" font-size="8.4" text-anchor="end" fill="#222" textLength="12.9" lengthAdjust="spacingAndGlyphs">0.5</text>
<line x1="388.8" y1="291.9" x2="391.7" y2="291.9" stroke="#222" stroke-width="0.9"/>
<text class="mt" x="385.2" y="323.0" font-size="8.4" text-anchor="end" fill="#222" textLength="12.9" lengthAdjust="spacingAndGlyphs">0.0</text>
<line x1="388.8" y1="319.4" x2="391.7" y2="319.4" stroke="#222" stroke-width="0.9"/>
<text class="mt" x="385.2" y="350.4" font-size="8.4" text-anchor="end" fill="#222" textLength="19.7" lengthAdjust="spacingAndGlyphs">–0.5</text>
<line x1="388.8" y1="346.8" x2="391.7" y2="346.8" stroke="#222" stroke-width="0.9"/>
<text class="mt" x="385.2" y="377.9" font-size="8.4" text-anchor="end" fill="#222" textLength="19.7" lengthAdjust="spacingAndGlyphs">–1.0</text>
<line x1="388.8" y1="374.3" x2="391.7" y2="374.3" stroke="#222" stroke-width="0.9"/>
<text class="mt" x="385.2" y="405.4" font-size="8.4" text-anchor="end" fill="#222" textLength="19.7" lengthAdjust="spacingAndGlyphs">–1.5</text>
<line x1="388.8" y1="401.8" x2="391.7" y2="401.8" stroke="#222" stroke-width="0.9"/>
<text class="mt" x="385.2" y="432.9" font-size="8.4" text-anchor="end" fill="#222" textLength="19.7" lengthAdjust="spacingAndGlyphs">–2.0</text>
<line x1="388.8" y1="429.3" x2="391.7" y2="429.3" stroke="#222" stroke-width="0.9"/>
<line x1="391.7" y1="429.3" x2="391.7" y2="432.3" stroke="#222" stroke-width="0.9"/>
<line x1="413.2" y1="429.3" x2="413.2" y2="432.3" stroke="#222" stroke-width="0.9"/>
<line x1="434.7" y1="429.3" x2="434.7" y2="432.3" stroke="#222" stroke-width="0.9"/>
<line x1="456.2" y1="429.3" x2="456.2" y2="432.3" stroke="#222" stroke-width="0.9"/>
<line x1="477.7" y1="429.3" x2="477.7" y2="432.3" stroke="#222" stroke-width="0.9"/>
<line x1="499.2" y1="429.3" x2="499.2" y2="432.3" stroke="#222" stroke-width="0.9"/>
<line x1="520.8" y1="429.3" x2="520.8" y2="432.3" stroke="#222" stroke-width="0.9"/>
<line x1="542.3" y1="429.3" x2="542.3" y2="432.3" stroke="#222" stroke-width="0.9"/>
<line x1="563.8" y1="429.3" x2="563.8" y2="432.3" stroke="#222" stroke-width="0.9"/>
<line x1="585.3" y1="429.3" x2="585.3" y2="432.3" stroke="#222" stroke-width="0.9"/>
<line x1="606.8" y1="429.3" x2="606.8" y2="432.3" stroke="#222" stroke-width="0.9"/>
<line x1="628.3" y1="429.3" x2="628.3" y2="432.3" stroke="#222" stroke-width="0.9"/>
<g clip-path="url(#cc)" fill="none" stroke-width="2.9" stroke-linecap="round">
<path d="M391.7 209.8 C392.4 209.8 394.6 209.8 396.0 209.9" stroke="#004dff"/>
<path d="M396.0 209.9 C397.4 210.0 398.8 210.1 400.0 210.4" stroke="#0052ff"/>
<path d="M400.0 210.4 C401.2 210.8 402.0 211.0 403.0 212.0" stroke="#0061ff"/>
<path d="M403.0 212.0 C404.0 213.0 404.9 214.3 406.0 216.5" stroke="#007aff"/>
<path d="M406.0 216.5 C407.1 218.7 408.2 222.5 409.4 225.0" stroke="#0094ff"/>
<path d="M409.4 225.0 C410.5 227.5 411.5 230.4 412.9 231.4" stroke="#00adff"/>
<path d="M412.9 231.4 C414.3 232.4 416.2 231.5 418.0 231.0" stroke="#00c2ff"/>
<path d="M418.0 231.0 C419.8 230.5 421.8 229.4 423.6 228.2" stroke="#00ccff"/>
<path d="M423.6 228.2 C425.4 226.9 427.2 225.1 429.0 223.5" stroke="#00d6ff"/>
<path d="M429.0 223.5 C430.8 221.9 432.2 220.3 434.3 218.4" stroke="#00e0fb"/>
<path d="M434.3 218.4 C436.4 216.5 439.6 213.6 441.4 212.1" stroke="#08f0ef"/>
<path d="M441.4 212.1 C443.2 210.6 444.4 209.8 445.0 209.4" stroke="#15ffe2"/>
<path d="M392.2 209.4 C392.3 210.0 392.6 211.9 392.8 213.0" stroke="#8cff6b"/>
<path d="M392.8 213.0 C393.0 214.1 393.4 215.5 393.5 216.0" stroke="#8cff6b"/>
<path d="M410.2 209.4 C410.4 210.2 411.0 212.7 411.5 214.0" stroke="#8cff6b"/>
<path d="M411.5 214.0 C412.0 215.3 412.1 216.8 413.0 217.1" stroke="#84ff73"/>
<path d="M413.0 217.1 C413.9 217.3 415.7 216.3 417.0 215.5" stroke="#7bff7b"/>
<path d="M417.0 215.5 C418.3 214.7 419.9 213.0 421.0 212.0" stroke="#7bff7b"/>
<path d="M421.0 212.0 C422.1 211.0 423.1 209.8 423.5 209.4" stroke="#7bff7b"/>
<path d="M443.2 209.4 C444.1 209.8 447.1 211.3 448.6 212.1" stroke="#3affbd"/>
<path d="M448.6 212.1 C450.1 212.9 450.8 213.4 452.0 214.2" stroke="#3affbd"/>
<path d="M452.0 214.2 C453.2 214.9 454.8 216.8 455.7 216.6" stroke="#3affbd"/>
<path d="M455.7 216.6 C456.6 216.4 457.1 214.2 457.5 213.0" stroke="#3affbd"/>
<path d="M457.5 213.0 C457.9 211.8 458.2 210.0 458.3 209.4" stroke="#3affbd"/>
<path d="M475.3 209.4 C475.8 210.2 477.1 212.5 478.0 214.0" stroke="#7bff7b"/>
<path d="M478.0 214.0 C478.9 215.5 479.8 217.7 480.6 218.4" stroke="#7bff7b"/>
<path d="M480.6 218.4 C481.4 219.1 482.2 218.3 483.0 218.0" stroke="#7bff7b"/>
<path d="M483.0 218.0 C483.8 217.7 484.8 216.8 485.1 216.6" stroke="#73ff84"/>
<path d="M477.0 210.2 C477.5 210.4 478.8 211.0 480.0 211.5" stroke="#004dff"/>
<path d="M480.0 211.5 C481.2 212.0 483.1 213.3 484.2 213.0" stroke="#0070ff"/>
<path d="M484.2 213.0 C485.3 212.7 486.4 210.0 486.8 209.4" stroke="#00adff"/>
<path d="M480.6 215.7 C481.2 215.9 482.8 216.4 484.0 217.0" stroke="#00a3ff"/>
<path d="M484.0 217.0 C485.2 217.6 486.6 217.9 487.7 219.2" stroke="#00adff"/>
<path d="M487.7 219.2 C488.8 220.4 489.6 222.4 490.5 224.5" stroke="#00b2ff"/>
<path d="M490.5 224.5 C491.4 226.6 492.1 229.3 493.0 231.7" stroke="#00b2ff"/>
<path d="M493.0 231.7 C493.9 234.1 495.1 237.1 496.0 239.0" stroke="#00b2ff"/>
<path d="M496.0 239.0 C496.9 240.9 497.4 242.5 498.4 243.0" stroke="#00b8ff"/>
<path d="M498.4 243.0 C499.4 243.5 500.8 242.6 502.0 242.0" stroke="#00bdff"/>
<path d="M502.0 242.0 C503.2 241.4 503.8 241.4 505.5 239.5" stroke="#00c2ff"/>
<path d="M505.5 239.5 C507.2 237.6 510.5 233.2 512.3 230.5" stroke="#00ccff"/>
<path d="M512.3 230.5 C514.1 227.8 515.1 225.9 516.5 223.5" stroke="#00dbff"/>
<path d="M516.5 223.5 C517.9 221.1 519.4 217.8 520.5 216.0" stroke="#08f0ef"/>
<path d="M520.5 216.0 C521.6 214.2 522.1 213.6 523.0 212.5" stroke="#15ffe2"/>
<path d="M523.0 212.5 C523.9 211.4 525.5 209.9 526.0 209.4" stroke="#1dffda"/>
<path d="M553.4 209.4 C553.9 210.2 555.5 212.6 556.5 214.0" stroke="#42ffb5"/>
<path d="M556.5 214.0 C557.5 215.4 558.5 216.9 559.7 217.8" stroke="#3effb9"/>
<path d="M559.7 217.8 C560.9 218.7 562.3 219.2 563.8 219.6" stroke="#3affbd"/>
<path d="M563.8 219.6 C565.3 220.0 567.4 220.0 568.9 220.5" stroke="#35ffc1"/>
<path d="M568.9 220.5 C570.4 221.0 571.6 221.9 573.0 222.5" stroke="#31ffc5"/>
<path d="M573.0 222.5 C574.4 223.1 575.8 224.3 577.1 224.2" stroke="#31ffc5"/>
<path d="M577.1 224.2 C578.4 224.1 579.6 223.1 581.0 222.0" stroke="#2dffca"/>
<path d="M581.0 222.0 C582.4 220.9 584.0 219.4 585.3 217.8" stroke="#29ffce"/>
<path d="M585.3 217.8 C586.6 216.2 587.7 212.7 588.9 212.7" stroke="#25ffd2"/>
<path d="M588.9 212.7 C590.1 212.7 591.5 215.8 592.6 217.8" stroke="#19ffde"/>
<path d="M592.6 217.8 C593.7 219.9 594.6 222.6 595.5 225.0" stroke="#0cf5ea"/>
<path d="M595.5 225.0 C596.4 227.4 596.9 229.7 598.1 232.4" stroke="#00e5f7"/>
<path d="M598.1 232.4 C599.3 235.2 601.2 239.6 602.6 241.5" stroke="#00c7ff"/>
<path d="M602.6 241.5 C604.0 243.4 605.7 243.3 606.3 243.7" stroke="#00a3ff"/>
<path d="M606.8 231.5 C607.4 231.2 609.2 230.3 610.5 229.5" stroke="#00a8ff"/>
<path d="M610.5 229.5 C611.8 228.7 613.2 227.8 614.5 226.9" stroke="#00c7ff"/>
<path d="M614.5 226.9 C615.8 226.0 616.8 224.9 618.0 224.0" stroke="#08f0ef"/>
<path d="M618.0 224.0 C619.2 223.1 620.6 222.1 621.8 221.4" stroke="#25ffd2"/>
<path d="M621.8 221.4 C623.0 220.7 623.9 220.4 625.0 220.0" stroke="#3affbd"/>
<path d="M625.0 220.0 C626.1 219.6 627.8 219.3 628.3 219.2" stroke="#46ffb1"/>
<path d="M606.8 217.4 C607.5 216.8 609.7 215.4 610.8 214.1" stroke="#adff4a"/>
<path d="M610.8 214.1 C611.9 212.8 613.1 210.2 613.6 209.4" stroke="#adff4a"/>
<path d="M392.6 331.5 C393.5 332.5 396.0 335.2 397.9 337.4" stroke="#ffde00"/>
<path d="M397.9 337.4 C399.8 339.6 402.4 344.4 404.1 344.8" stroke="#ffd000"/>
<path d="M404.1 344.8 C405.9 345.2 406.8 341.3 408.4 339.9" stroke="#ffb300"/>
<path d="M408.4 339.9 C409.9 338.5 411.8 336.8 413.4 336.4" stroke="#ff8400"/>
<path d="M413.4 336.4 C415.0 336.0 416.2 336.8 418.0 337.6" stroke="#ff6800"/>
<path d="M418.0 337.6 C419.8 338.4 422.1 339.7 423.9 341.1" stroke="#ff7100"/>
<path d="M423.9 341.1 C425.7 342.5 427.2 344.2 429.0 346.0" stroke="#ff8400"/>
<path d="M429.0 346.0 C430.8 347.8 432.6 350.2 434.4 351.6" stroke="#ff9c00"/>
<path d="M434.4 351.6 C436.2 353.0 438.1 354.1 439.7 354.4" stroke="#ffb800"/>
<path d="M439.7 354.4 C441.3 354.7 442.3 354.3 444.0 353.5" stroke="#ffcb00"/>
<path d="M444.0 353.5 C445.7 352.7 447.9 351.1 450.0 349.5" stroke="#ffd400"/>
<path d="M450.0 349.5 C452.1 347.9 455.1 345.8 456.7 344.2" stroke="#ffd900"/>
<path d="M456.7 344.2 C458.3 342.6 458.5 340.2 459.6 340.0" stroke="#ffde00"/>
<path d="M459.6 340.0 C460.7 339.8 462.1 342.5 463.4 343.2" stroke="#ffe300"/>
<path d="M463.4 343.2 C464.7 343.9 465.8 345.3 467.2 344.2" stroke="#ffe700"/>
<path d="M467.2 344.2 C468.6 343.1 470.3 338.6 472.0 336.5" stroke="#ffec00"/>
<path d="M472.0 336.5 C473.7 334.4 475.6 331.3 477.4 331.6" stroke="#fbf100"/>
<path d="M477.4 331.6 C479.2 331.9 480.9 335.3 482.6 338.4" stroke="#f3fa04"/>
<path d="M482.6 338.4 C484.3 341.4 485.8 345.6 487.4 349.9" stroke="#deff19"/>
<path d="M487.4 349.9 C489.0 354.2 490.7 359.6 492.1 364.0" stroke="#c1ff35"/>
<path d="M492.1 364.0 C493.5 368.4 494.8 373.2 496.0 376.0" stroke="#a5ff52"/>
<path d="M496.0 376.0 C497.2 378.8 498.2 380.2 499.3 381.0" stroke="#88ff6f"/>
<path d="M499.3 381.0 C500.4 381.8 501.3 381.4 502.5 380.5" stroke="#84ff73"/>
<path d="M502.5 380.5 C503.7 379.6 504.8 378.6 506.5 375.4" stroke="#9cff5a"/>
<path d="M506.5 375.4 C508.2 372.2 510.9 365.2 512.8 361.3" stroke="#c5ff31"/>
<path d="M512.8 361.3 C514.6 357.4 516.3 354.4 517.6 351.8" stroke="#eaff0c"/>
<path d="M517.6 351.8 C518.9 349.2 519.6 347.1 520.7 345.5" stroke="#ffe700"/>
<path d="M520.7 345.5 C521.8 343.9 522.7 342.8 524.0 342.0" stroke="#ffc600"/>
<path d="M524.0 342.0 C525.3 341.2 526.8 340.2 528.6 340.8" stroke="#ffaa00"/>
<path d="M528.6 340.8 C530.4 341.4 532.7 344.1 534.9 345.5" stroke="#ffaa00"/>
<path d="M534.9 345.5 C537.1 346.9 539.9 348.6 542.0 349.4" stroke="#ffbd00"/>
<path d="M542.0 349.4 C544.1 350.2 545.9 349.5 547.6 350.2" stroke="#ffcb00"/>
<path d="M547.6 350.2 C549.3 350.9 550.6 351.9 552.0 353.5" stroke="#ffd000"/>
<path d="M552.0 353.5 C553.4 355.1 554.9 358.2 556.1 360.0" stroke="#ffd400"/>
<path d="M556.1 360.0 C557.3 361.8 558.0 362.9 559.4 364.1" stroke="#ffd900"/>
<path d="M559.4 364.1 C560.8 365.3 562.1 366.1 564.2 367.3" stroke="#ffde00"/>
<path d="M564.2 367.3 C566.4 368.5 569.6 369.6 572.3 371.4" stroke="#ffec00"/>
<path d="M572.3 371.4 C575.0 373.2 578.3 376.3 580.5 377.9" stroke="#efff08"/>
<path d="M580.5 377.9 C582.7 379.5 583.1 380.2 585.3 381.1" stroke="#e2ff15"/>
<path d="M585.3 381.1 C587.4 382.0 590.9 383.3 593.4 383.5" stroke="#d6ff21"/>
<path d="M593.4 383.5 C595.9 383.7 597.8 382.9 600.0 382.5" stroke="#ceff29"/>
<path d="M600.0 382.5 C602.2 382.1 605.3 381.3 606.4 381.1" stroke="#ceff29"/>
<circle cx="393.3" cy="333.2" r="1.3" fill="#8cff6b" stroke="none"/>
<circle cx="394.6" cy="336.5" r="1.3" fill="#8cff6b" stroke="none"/>
<circle cx="395.9" cy="339.9" r="1.3" fill="#8cff6b" stroke="none"/>
<circle cx="397.0" cy="343.3" r="1.3" fill="#8dff6a" stroke="none"/>
<circle cx="397.9" cy="346.8" r="1.3" fill="#90ff67" stroke="none"/>
<circle cx="398.7" cy="350.3" r="1.3" fill="#92ff64" stroke="none"/>
<circle cx="399.4" cy="353.8" r="1.3" fill="#97ff60" stroke="none"/>
<circle cx="400.1" cy="357.4" r="1.3" fill="#9dff5a" stroke="none"/>
<circle cx="400.7" cy="360.9" r="1.3" fill="#a3ff54" stroke="none"/>
<circle cx="401.5" cy="364.4" r="1.3" fill="#a8ff4f" stroke="none"/>
<circle cx="402.4" cy="367.9" r="1.3" fill="#adff49" stroke="none"/>
<circle cx="403.3" cy="371.4" r="1.3" fill="#b4ff43" stroke="none"/>
<circle cx="404.7" cy="374.7" r="1.3" fill="#baff3d" stroke="none"/>
<path d="M405.3 375.8 C405.7 375.3 407.0 373.6 407.8 372.7" stroke="#c5ff31"/>
<path d="M407.8 372.7 C408.6 371.8 409.4 370.6 410.3 370.6" stroke="#deff19"/>
<path d="M410.3 370.6 C411.2 370.6 411.9 372.2 413.5 372.8" stroke="#ffec00"/>
<path d="M413.5 372.8 C415.1 373.4 417.9 374.1 420.0 374.5" stroke="#ffd400"/>
<path d="M420.0 374.5 C422.1 374.9 423.8 374.8 426.2 375.4" stroke="#ffd000"/>
<path d="M426.2 375.4 C428.6 375.9 432.4 377.9 434.6 377.8" stroke="#ffd000"/>
<path d="M434.6 377.8 C436.8 377.7 437.1 375.7 439.2 374.6" stroke="#ffec00"/>
<path d="M439.2 374.6 C441.3 373.5 444.4 371.8 447.3 371.0" stroke="#daff1d"/>
<path d="M447.3 371.0 C450.2 370.2 454.6 369.4 456.7 370.0" stroke="#caff2d"/>
<path d="M456.7 370.0 C458.8 370.6 458.6 372.1 459.6 374.8" stroke="#c1ff35"/>
<path d="M459.6 374.8 C460.6 377.5 461.6 382.5 462.5 386.3" stroke="#adff4a"/>
<path d="M462.5 386.3 C463.4 390.1 464.7 395.1 465.3 397.8" stroke="#8cff6b"/>
<path d="M465.3 397.8 C465.9 400.5 466.1 401.8 466.3 402.6" stroke="#6fff88"/>
<circle cx="466.6" cy="400.7" r="1.3" fill="#7fff78" stroke="none"/>
<circle cx="467.1" cy="396.9" r="1.3" fill="#83ff74" stroke="none"/>
<circle cx="467.6" cy="393.2" r="1.3" fill="#87ff70" stroke="none"/>
<circle cx="468.0" cy="389.4" r="1.3" fill="#8bff6c" stroke="none"/>
<circle cx="468.5" cy="385.6" r="1.3" fill="#90ff67" stroke="none"/>
<circle cx="469.0" cy="381.9" r="1.3" fill="#96ff61" stroke="none"/>
<circle cx="469.5" cy="378.1" r="1.3" fill="#9cff5b" stroke="none"/>
<circle cx="469.9" cy="374.3" r="1.3" fill="#a2ff55" stroke="none"/>
<circle cx="470.4" cy="370.6" r="1.3" fill="#a7ff50" stroke="none"/>
<circle cx="470.8" cy="366.8" r="1.3" fill="#abff4c" stroke="none"/>
<circle cx="471.3" cy="363.0" r="1.3" fill="#afff48" stroke="none"/>
<circle cx="471.8" cy="359.2" r="1.3" fill="#b3ff44" stroke="none"/>
<circle cx="472.3" cy="355.5" r="1.3" fill="#b9ff3e" stroke="none"/>
<circle cx="472.8" cy="351.7" r="1.3" fill="#bfff38" stroke="none"/>
<circle cx="473.3" cy="347.9" r="1.3" fill="#c6ff31" stroke="none"/>
<circle cx="473.9" cy="344.2" r="1.3" fill="#ceff29" stroke="none"/>
<circle cx="474.6" cy="340.5" r="1.3" fill="#d3ff24" stroke="none"/>
<circle cx="475.4" cy="336.7" r="1.3" fill="#d9ff1d" stroke="none"/>
<circle cx="476.4" cy="333.1" r="1.3" fill="#e3ff14" stroke="none"/>
<circle cx="476.6" cy="334.9" r="1.3" fill="#9fff58" stroke="none"/>
<circle cx="475.8" cy="338.6" r="1.3" fill="#97ff60" stroke="none"/>
<circle cx="475.1" cy="342.3" r="1.3" fill="#90ff66" stroke="none"/>
<circle cx="474.3" cy="346.0" r="1.3" fill="#8bff6c" stroke="none"/>
<circle cx="473.5" cy="349.7" r="1.3" fill="#87ff70" stroke="none"/>
<circle cx="472.7" cy="353.5" r="1.3" fill="#83ff74" stroke="none"/>
<circle cx="472.0" cy="357.2" r="1.3" fill="#80ff77" stroke="none"/>
<circle cx="471.2" cy="360.9" r="1.3" fill="#7cff7a" stroke="none"/>
<circle cx="470.5" cy="364.6" r="1.3" fill="#76ff81" stroke="none"/>
<circle cx="469.8" cy="368.4" r="1.3" fill="#6fff88" stroke="none"/>
<circle cx="469.1" cy="372.1" r="1.3" fill="#68ff8f" stroke="none"/>
<circle cx="468.4" cy="375.8" r="1.3" fill="#61ff96" stroke="none"/>
<circle cx="467.7" cy="379.6" r="1.3" fill="#5aff9d" stroke="none"/>
<circle cx="466.9" cy="383.3" r="1.3" fill="#52ffa5" stroke="none"/>
<circle cx="466.2" cy="387.0" r="1.3" fill="#4cffab" stroke="none"/>
<circle cx="465.5" cy="390.8" r="1.3" fill="#44ffb2" stroke="none"/>
<circle cx="464.6" cy="394.5" r="1.3" fill="#3dffba" stroke="none"/>
<circle cx="463.8" cy="398.2" r="1.3" fill="#34ffc2" stroke="none"/>
<circle cx="462.9" cy="401.9" r="1.3" fill="#2cffca" stroke="none"/>
<circle cx="461.9" cy="405.5" r="1.3" fill="#24ffd3" stroke="none"/>
<circle cx="479.2" cy="336.4" r="1.3" fill="#ccff2b" stroke="none"/>
<circle cx="480.1" cy="340.1" r="1.3" fill="#c9ff2d" stroke="none"/>
<circle cx="481.0" cy="343.8" r="1.3" fill="#c7ff2f" stroke="none"/>
<circle cx="481.9" cy="347.5" r="1.3" fill="#c5ff32" stroke="none"/>
<circle cx="482.7" cy="351.2" r="1.3" fill="#c0ff37" stroke="none"/>
<circle cx="483.5" cy="354.9" r="1.3" fill="#bbff3b" stroke="none"/>
<circle cx="484.3" cy="358.7" r="1.3" fill="#b7ff40" stroke="none"/>
<circle cx="485.1" cy="362.4" r="1.3" fill="#b0ff47" stroke="none"/>
<circle cx="486.0" cy="366.1" r="1.3" fill="#a8ff4e" stroke="none"/>
<circle cx="486.8" cy="369.8" r="1.3" fill="#a1ff56" stroke="none"/>
<circle cx="487.5" cy="373.5" r="1.3" fill="#99ff5e" stroke="none"/>
<circle cx="488.1" cy="377.3" r="1.3" fill="#90ff67" stroke="none"/>
<circle cx="488.7" cy="381.0" r="1.3" fill="#87ff70" stroke="none"/>
<circle cx="489.2" cy="384.8" r="1.3" fill="#7eff79" stroke="none"/>
<circle cx="489.8" cy="388.5" r="1.3" fill="#73ff84" stroke="none"/>
<circle cx="490.2" cy="392.3" r="1.3" fill="#66ff91" stroke="none"/>
<circle cx="490.7" cy="396.1" r="1.3" fill="#59ff9e" stroke="none"/>
<circle cx="491.3" cy="399.8" r="1.3" fill="#4bffac" stroke="none"/>
<circle cx="492.0" cy="403.6" r="1.3" fill="#3affbd" stroke="none"/>
<circle cx="492.8" cy="407.3" r="1.3" fill="#26ffd1" stroke="none"/>
<circle cx="493.8" cy="411.0" r="1.3" fill="#12fbe5" stroke="none"/>
<circle cx="494.8" cy="414.6" r="1.3" fill="#00ddfe" stroke="none"/>
<circle cx="495.8" cy="418.3" r="1.3" fill="#00bfff" stroke="none"/>
<circle cx="496.9" cy="421.9" r="1.3" fill="#009dff" stroke="none"/>
<circle cx="498.2" cy="425.5" r="1.3" fill="#0073ff" stroke="none"/>
<circle cx="392.9" cy="334.0" r="1.3" fill="#efff08" stroke="none"/>
<circle cx="393.3" cy="339.0" r="1.3" fill="#edff09" stroke="none"/>
<circle cx="393.7" cy="343.9" r="1.3" fill="#eaff0d" stroke="none"/>
<circle cx="394.1" cy="348.9" r="1.3" fill="#e7ff10" stroke="none"/>
<circle cx="394.6" cy="353.9" r="1.3" fill="#e6ff10" stroke="none"/>
<circle cx="395.2" cy="358.9" r="1.3" fill="#e6ff10" stroke="none"/>
<circle cx="395.7" cy="363.8" r="1.3" fill="#e4ff13" stroke="none"/>
<circle cx="396.3" cy="368.8" r="1.3" fill="#e1ff16" stroke="none"/>
<circle cx="396.9" cy="373.8" r="1.3" fill="#deff19" stroke="none"/>
<circle cx="397.6" cy="378.7" r="1.3" fill="#ddff1a" stroke="none"/>
<circle cx="397.9" cy="383.7" r="1.3" fill="#d5ff22" stroke="none"/>
<circle cx="398.4" cy="388.7" r="1.3" fill="#ceff29" stroke="none"/>
<circle cx="398.9" cy="393.7" r="1.3" fill="#cdff2a" stroke="none"/>
<circle cx="399.5" cy="398.6" r="1.3" fill="#c3ff34" stroke="none"/>
<path d="M399.9 401.4 C400.3 402.1 401.3 404.4 402.1 405.5" stroke="#a0ff56"/>
<path d="M402.1 405.5 C402.9 406.6 403.9 408.0 404.7 408.0" stroke="#88ff6f"/>
<path d="M404.7 408.0 C405.5 408.0 406.1 407.6 406.7 405.5" stroke="#73ff84"/>
<path d="M406.7 405.5 C407.3 403.4 407.7 398.5 408.2 395.3" stroke="#5fff98"/>
<path d="M408.2 395.3 C408.7 392.1 409.2 388.7 409.7 386.2" stroke="#46ffb1"/>
<path d="M409.7 386.2 C410.2 383.7 410.7 381.3 411.3 380.1" stroke="#31ffc5"/>
<path d="M411.3 380.1 C411.9 378.9 412.1 379.1 413.5 379.0" stroke="#25ffd2"/>
<path d="M413.5 379.0 C414.9 378.9 417.9 379.2 420.0 379.4" stroke="#1dffda"/>
<path d="M420.0 379.4 C422.1 379.5 423.8 379.6 426.2 379.9" stroke="#19ffde"/>
<path d="M426.2 379.9 C428.6 380.2 432.4 379.8 434.6 381.1" stroke="#19ffde"/>
<path d="M434.6 381.1 C436.8 382.4 437.6 384.5 439.2 387.5" stroke="#10fae6"/>
<path d="M439.2 387.5 C440.8 390.5 442.2 395.2 444.0 398.9" stroke="#00e5f7"/>
<path d="M444.0 398.9 C445.8 402.5 447.8 407.1 449.7 409.4" stroke="#00ccff"/>
<path d="M449.7 409.4 C451.6 411.7 453.9 412.4 455.4 412.7" stroke="#00b2ff"/>
<path d="M455.4 412.7 C456.9 413.0 457.1 411.7 458.6 411.0" stroke="#009eff"/>
<path d="M458.6 411.0 C460.1 410.3 462.7 407.7 464.3 408.6" stroke="#0085ff"/>
<path d="M464.3 408.6 C465.9 409.6 467.3 414.3 468.3 416.7" stroke="#006bff"/>
<path d="M468.3 416.7 C469.3 419.1 469.8 420.9 470.5 423.0" stroke="#0057ff"/>
<path d="M470.5 423.0 C471.2 425.1 472.1 428.0 472.4 429.0" stroke="#004dff"/>
<path d="M392.9 429.3 C393.2 428.7 394.4 427.2 395.0 425.9" stroke="#0057ff"/>
<path d="M395.0 425.9 C395.6 424.6 395.9 423.0 396.4 421.7" stroke="#0075ff"/>
<path d="M396.4 421.7 C396.8 420.4 397.5 418.8 397.7 418.2" stroke="#009eff"/>
<circle cx="398.3" cy="415.8" r="1.3" fill="#00c4ff" stroke="none"/>
<circle cx="399.4" cy="410.9" r="1.3" fill="#00ddfe" stroke="none"/>
<circle cx="400.5" cy="406.0" r="1.3" fill="#0bf3ec" stroke="none"/>
<circle cx="401.4" cy="401.1" r="1.3" fill="#21ffd6" stroke="none"/>
<path d="M401.6 400.0 C401.7 399.3 401.9 397.6 402.1 396.0" stroke="#31ffc5"/>
<path d="M402.1 396.0 C402.3 394.4 402.2 392.1 402.6 390.3" stroke="#46ffb1"/>
<path d="M402.6 390.3 C403.0 388.5 403.6 386.2 404.2 385.2" stroke="#5aff9c"/>
<path d="M404.2 385.2 C404.8 384.1 405.5 384.0 406.2 384.0" stroke="#67ff90"/>
<path d="M406.2 384.0 C406.9 384.0 407.4 385.5 408.2 385.2" stroke="#73ff84"/>
<path d="M408.2 385.2 C408.9 384.9 409.8 382.9 410.7 382.2" stroke="#94ff63"/>
<path d="M410.7 382.2 C411.6 381.5 412.1 381.1 413.6 381.1" stroke="#bdff3a"/>
<path d="M413.6 381.1 C415.2 381.1 417.9 381.9 420.0 382.3" stroke="#caff2d"/>
<path d="M420.0 382.3 C422.1 382.7 423.8 382.9 426.2 383.5" stroke="#c1ff35"/>
<path d="M426.2 383.5 C428.6 384.1 432.4 384.1 434.6 385.9" stroke="#b1ff46"/>
<path d="M434.6 385.9 C436.8 387.6 437.9 390.5 439.2 394.0" stroke="#90ff67"/>
<path d="M439.2 394.0 C440.5 397.5 441.0 402.7 442.4 407.0" stroke="#63ff94"/>
<path d="M442.4 407.0 C443.8 411.3 445.9 417.3 447.3 420.0" stroke="#21ffd6"/>
<path d="M447.3 420.0 C448.7 422.7 449.9 422.3 451.0 423.0" stroke="#009eff"/>
<path d="M451.0 423.0 C452.1 423.7 452.9 423.6 453.8 424.0" stroke="#004dff"/>
<path d="M453.8 424.0 C454.7 424.4 455.7 424.8 456.5 425.6" stroke="#0024ff"/>
<path d="M456.5 425.6 C457.3 426.4 458.2 428.4 458.6 429.0" stroke="#0005ff"/>
<circle cx="407.1" cy="424.0" r="1.3" fill="#0066ff" stroke="none"/>
<circle cx="407.5" cy="418.5" r="1.3" fill="#0089ff" stroke="none"/>
<circle cx="408.0" cy="413.0" r="1.3" fill="#00a6ff" stroke="none"/>
<circle cx="408.5" cy="407.5" r="1.3" fill="#00bbff" stroke="none"/>
<circle cx="409.0" cy="402.0" r="1.3" fill="#00cbff" stroke="none"/>
<circle cx="410.1" cy="396.7" r="1.3" fill="#00e3f9" stroke="none"/>
<path d="M410.7 395.0 C411.2 394.7 412.4 393.2 413.6 393.2" stroke="#0cf5ea"/>
<path d="M413.6 393.2 C414.8 393.2 416.4 394.1 418.0 394.8" stroke="#10fae6"/>
<path d="M418.0 394.8 C419.6 395.5 421.3 396.2 423.0 397.3" stroke="#10fae6"/>
<path d="M423.0 397.3 C424.7 398.4 426.1 400.1 428.0 401.5" stroke="#0cf5ea"/>
<path d="M428.0 401.5 C429.9 402.9 432.9 404.5 434.6 406.0" stroke="#04ebf3"/>
<path d="M434.6 406.0 C436.4 407.5 437.3 409.2 438.5 410.5" stroke="#00dbff"/>
<path d="M438.5 410.5 C439.7 411.8 440.5 412.4 441.6 413.6" stroke="#00c2ff"/>
<path d="M441.6 413.6 C442.7 414.9 443.9 416.8 445.0 418.0" stroke="#0099ff"/>
<path d="M445.0 418.0 C446.1 419.2 446.8 419.9 448.0 421.0" stroke="#0066ff"/>
<path d="M448.0 421.0 C449.2 422.1 450.6 423.7 452.0 424.5" stroke="#0033ff"/>
<path d="M452.0 424.5 C453.4 425.3 455.3 425.3 456.5 426.0" stroke="#000aff"/>
<path d="M456.5 426.0 C457.7 426.7 458.6 428.1 459.0 428.5" stroke="#0000ff"/>
<path d="M465.1 429.3 C465.5 428.3 466.7 423.2 467.5 423.2" stroke="#0075ff"/>
<path d="M467.5 423.2 C468.3 423.2 469.6 428.3 470.0 429.3" stroke="#0075ff"/>
<path d="M480.5 429.3 C481.3 428.3 483.6 426.0 485.4 423.1" stroke="#00a8ff"/>
<path d="M485.4 423.1 C487.1 420.2 489.4 414.7 491.0 411.9" stroke="#00c2ff"/>
<path d="M491.0 411.9 C492.6 409.1 493.7 407.5 495.1 406.3" stroke="#00e0fb"/>
<path d="M495.1 406.3 C496.5 405.1 497.7 404.9 499.3 404.9" stroke="#0cf5ea"/>
<path d="M499.3 404.9 C500.9 404.9 502.8 405.2 504.9 406.3" stroke="#04ebf3"/>
<path d="M504.9 406.3 C507.0 407.4 509.8 409.8 511.9 411.2" stroke="#00bdff"/>
<path d="M511.9 411.2 C514.0 412.6 516.1 414.3 517.5 414.7" stroke="#008aff"/>
<path d="M517.5 414.7 C518.9 415.1 518.9 414.4 520.3 413.3" stroke="#006bff"/>
<path d="M520.3 413.3 C521.7 412.2 524.0 410.4 525.9 408.4" stroke="#0057ff"/>
<path d="M525.9 408.4 C527.8 406.4 529.8 403.3 531.5 401.4" stroke="#004dff"/>
<path d="M531.5 401.4 C533.2 399.5 534.9 397.3 536.3 397.2" stroke="#0057ff"/>
<path d="M536.3 397.2 C537.7 397.1 538.3 399.4 539.8 400.7" stroke="#0080ff"/>
<path d="M539.8 400.7 C541.2 402.0 543.3 404.0 545.0 404.9" stroke="#00bdff"/>
<path d="M545.0 404.9 C546.7 405.8 548.0 406.1 550.0 406.3" stroke="#00e5f7"/>
<path d="M550.0 406.3 C552.0 406.5 554.6 406.1 557.0 406.0" stroke="#08f0ef"/>
<path d="M557.0 406.0 C559.4 405.9 561.9 407.2 564.2 405.5" stroke="#08f0ef"/>
<path d="M564.2 405.5 C566.5 403.8 569.0 398.8 570.7 395.7" stroke="#19ffde"/>
<path d="M570.7 395.7 C572.4 392.6 573.1 389.4 574.5 387.0" stroke="#3affbd"/>
<path d="M574.5 387.0 C575.9 384.6 577.0 382.8 578.8 381.1" stroke="#52ffa5"/>
<path d="M578.8 381.1 C580.6 379.4 583.5 377.4 585.3 377.0" stroke="#6bff8c"/>
<path d="M585.3 377.0 C587.1 376.6 588.1 377.7 589.5 378.5" stroke="#7bff7b"/>
<path d="M589.5 378.5 C590.9 379.3 591.6 381.4 593.4 381.9" stroke="#7bff7b"/>
<path d="M593.4 381.9 C595.1 382.4 597.8 381.8 600.0 381.7" stroke="#84ff73"/>
<path d="M600.0 381.7 C602.2 381.6 605.3 381.2 606.4 381.1" stroke="#98ff5f"/>
<path d="M497.9 404.9 C498.8 404.0 502.0 400.8 503.5 399.3" stroke="#2dffca"/>
<path d="M503.5 399.3 C505.0 397.8 505.8 395.3 507.0 395.8" stroke="#35ffc1"/>
<path d="M507.0 395.8 C508.2 396.3 509.2 399.2 510.5 402.1" stroke="#31ffc5"/>
<path d="M510.5 402.1 C511.8 405.0 513.3 409.8 514.7 413.3" stroke="#10fae6"/>
<path d="M514.7 413.3 C516.1 416.8 517.7 420.4 518.9 423.1" stroke="#009eff"/>
<path d="M518.9 423.1 C520.1 425.8 521.2 428.3 521.7 429.3" stroke="#003dff"/>
<path d="M517.5 429.3 C518.0 428.5 518.9 425.6 520.3 424.5" stroke="#0070ff"/>
<path d="M520.3 424.5 C521.7 423.4 524.0 423.3 525.9 422.8" stroke="#008aff"/>
<path d="M525.9 422.8 C527.8 422.3 529.6 422.8 531.5 421.7" stroke="#0099ff"/>
<path d="M531.5 421.7 C533.4 420.6 535.4 418.2 537.0 416.1" stroke="#00adff"/>
<path d="M537.0 416.1 C538.6 414.0 539.9 411.0 541.2 409.1" stroke="#00ccff"/>
<path d="M541.2 409.1 C542.5 407.2 543.5 405.8 545.0 404.9" stroke="#00e5f7"/>
<path d="M545.0 404.9 C546.5 404.0 548.2 404.3 550.0 403.8" stroke="#10fae6"/>
<path d="M550.0 403.8 C551.8 403.3 554.6 404.1 556.0 402.0" stroke="#21ffd6"/>
<path d="M556.0 402.0 C557.4 399.9 557.1 394.6 558.5 391.0" stroke="#3affbd"/>
<path d="M558.5 391.0 C559.9 387.4 562.2 381.3 564.2 380.3" stroke="#56ffa0"/>
<path d="M564.2 380.3 C566.2 379.3 568.5 383.9 570.7 385.2" stroke="#5aff9c"/>
<path d="M570.7 385.2 C572.9 386.5 575.0 388.3 577.2 388.4" stroke="#4affad"/>
<path d="M577.2 388.4 C579.4 388.5 581.8 386.1 583.7 386.0" stroke="#3effb9"/>
<path d="M583.7 386.0 C585.6 385.9 586.4 386.0 588.6 387.6" stroke="#35ffc1"/>
<path d="M588.6 387.6 C590.8 389.2 594.6 393.5 596.7 395.7" stroke="#25ffd2"/>
<path d="M596.7 395.7 C598.9 397.9 599.9 399.4 601.5 401.0" stroke="#15ffe2"/>
<path d="M601.5 401.0 C603.1 402.6 605.6 404.8 606.4 405.5" stroke="#0cf5ea"/>
<path d="M519.6 425.9 C520.2 426.4 522.1 428.1 523.1 428.7" stroke="#0000ff"/>
<path d="M523.1 428.7 C524.1 429.3 525.4 429.2 525.9 429.3" stroke="#0000f3"/>
<path d="M499.3 381.2 C500.0 381.7 502.3 383.2 503.5 384.0" stroke="#8cff6b"/>
<path d="M503.5 384.0 C504.7 384.8 505.4 386.6 506.6 386.1" stroke="#88ff6f"/>
<path d="M506.6 386.1 C507.8 385.6 508.9 383.3 510.5 381.2" stroke="#80ff77"/>
<path d="M510.5 381.2 C512.1 379.1 514.5 375.4 516.1 373.5" stroke="#7bff7b"/>
<path d="M516.1 373.5 C517.7 371.6 518.7 369.4 520.3 370.0" stroke="#7bff7b"/>
<path d="M520.3 370.0 C521.9 370.6 524.0 374.4 525.9 377.0" stroke="#73ff84"/>
<path d="M525.9 377.0 C527.8 379.6 529.8 383.0 531.5 385.4" stroke="#5fff98"/>
<path d="M531.5 385.4 C533.2 387.8 535.2 390.6 536.3 391.6" stroke="#3effb9"/>
<path d="M536.3 391.6 C537.4 392.7 537.3 391.8 538.2 391.7" stroke="#1dffda"/>
<path d="M538.2 391.7 C539.1 391.6 540.7 391.5 541.8 390.8" stroke="#00e5f7"/>
<path d="M541.8 390.8 C542.9 390.1 543.4 389.5 544.7 387.6" stroke="#00e0fb"/>
<path d="M544.7 387.6 C546.0 385.7 548.0 382.8 549.6 379.5" stroke="#2dffca"/>
<path d="M549.6 379.5 C551.2 376.2 553.2 370.9 554.5 368.1" stroke="#7bff7b"/>
<path d="M554.5 368.1 C555.8 365.3 556.2 364.9 557.6 362.9" stroke="#b1ff46"/>
<path d="M557.6 362.9 C559.0 360.9 560.9 358.1 563.0 356.0" stroke="#b5ff42"/>
<path d="M563.0 356.0 C565.1 353.9 567.7 352.1 570.2 350.2" stroke="#9cff5a"/>
<path d="M570.2 350.2 C572.7 348.3 575.8 345.0 577.8 344.5" stroke="#84ff73"/>
<path d="M577.8 344.5 C579.8 344.0 580.7 345.6 582.0 347.0" stroke="#77ff80"/>
<path d="M582.0 347.0 C583.3 348.4 584.2 350.3 585.4 352.8" stroke="#73ff84"/>
<path d="M585.4 352.8 C586.6 355.3 587.8 358.6 589.0 362.0" stroke="#77ff80"/>
<path d="M589.0 362.0 C590.2 365.4 591.6 370.2 592.9 373.0" stroke="#84ff73"/>
<path d="M592.9 373.0 C594.2 375.8 595.7 377.7 597.0 379.0" stroke="#98ff5f"/>
<path d="M597.0 379.0 C598.3 380.3 598.9 380.6 600.5 381.0" stroke="#b1ff46"/>
<path d="M600.5 381.0 C602.1 381.4 605.4 381.4 606.4 381.5" stroke="#c5ff31"/>
<path d="M547.2 429.3 C547.9 427.8 550.0 422.9 551.2 420.0" stroke="#52ffa5"/>
<path d="M551.2 420.0 C552.4 417.1 553.7 414.1 554.5 412.0" stroke="#4effa9"/>
<path d="M554.5 412.0 C555.3 409.9 555.1 409.6 556.1 407.1" stroke="#46ffb1"/>
<path d="M556.1 407.1 C557.1 404.7 558.9 399.6 560.2 397.3" stroke="#3effb9"/>
<path d="M560.2 397.3 C561.6 395.0 562.7 393.8 564.2 393.3" stroke="#3affbd"/>
<path d="M564.2 393.3 C565.7 392.8 567.2 392.9 569.1 394.1" stroke="#31ffc5"/>
<path d="M569.1 394.1 C571.0 395.3 573.8 398.6 575.6 400.6" stroke="#1dffda"/>
<path d="M575.6 400.6 C577.4 402.6 578.9 404.6 580.0 406.0" stroke="#00e0fb"/>
<path d="M580.0 406.0 C581.1 407.4 581.2 407.4 582.1 408.7" stroke="#00b3ff"/>
<path d="M582.1 408.7 C583.0 410.0 584.7 411.4 585.6 413.6" stroke="#0075ff"/>
<path d="M585.6 413.6 C586.5 415.8 587.0 419.1 587.8 421.7" stroke="#0024ff"/>
<path d="M587.8 421.7 C588.6 424.3 589.8 428.0 590.2 429.3" stroke="#0000f3"/>
<path d="M555.1 429.3 C555.7 428.4 557.8 424.9 558.9 423.9" stroke="#0000ff"/>
<path d="M558.9 423.9 C560.0 422.8 561.0 422.9 562.0 423.0" stroke="#0000ff"/>
<path d="M562.0 423.0 C563.0 423.1 564.2 423.6 565.2 424.6" stroke="#000aff"/>
<path d="M565.2 424.6 C566.2 425.7 567.3 428.5 567.7 429.3" stroke="#0033ff"/>
<path d="M606.8 336.4 C607.5 337.0 609.5 338.1 611.0 340.0" stroke="#ff5500"/>
<path d="M611.0 340.0 C612.5 341.9 613.9 345.0 615.6 347.7" stroke="#ff6d00"/>
<path d="M615.6 347.7 C617.3 350.4 619.4 353.6 621.0 356.0" stroke="#ff8900"/>
<path d="M621.0 356.0 C622.6 358.4 623.8 360.3 625.0 362.0" stroke="#ffa500"/>
<path d="M625.0 362.0 C626.2 363.7 627.8 365.3 628.3 366.0" stroke="#ffbd00"/>
<path d="M606.8 373.0 C607.5 373.3 609.5 373.8 611.0 375.0" stroke="#f3fa04"/>
<path d="M611.0 375.0 C612.5 376.2 613.9 377.7 615.6 380.5" stroke="#daff1d"/>
<path d="M615.6 380.5 C617.3 383.3 619.4 388.6 621.0 392.0" stroke="#a5ff52"/>
<path d="M621.0 392.0 C622.6 395.4 623.8 398.7 625.0 401.0" stroke="#52ffa5"/>
<path d="M625.0 401.0 C626.2 403.3 627.8 405.2 628.3 406.0" stroke="#19ffde"/>
<path d="M606.8 379.2 C607.5 379.2 609.5 379.2 611.0 379.0" stroke="#52ffa5"/>
<path d="M611.0 379.0 C612.5 378.8 613.9 379.0 615.6 378.0" stroke="#52ffa5"/>
<path d="M615.6 378.0 C617.3 377.0 619.4 374.5 621.0 373.0" stroke="#52ffa5"/>
<path d="M621.0 373.0 C622.6 371.5 623.8 370.1 625.0 369.0" stroke="#52ffa5"/>
<path d="M625.0 369.0 C626.2 367.9 627.8 367.0 628.3 366.6" stroke="#52ffa5"/>
<path d="M606.8 379.2 C608.5 379.3 613.4 379.6 617.0 379.8" stroke="#4effa9"/>
<path d="M617.0 379.8 C620.6 380.0 626.4 380.4 628.3 380.5" stroke="#52ffa5"/>
<path d="M606.8 393.1 C608.5 393.1 613.4 393.1 617.0 393.0" stroke="#0cf5ea"/>
<path d="M617.0 393.0 C620.6 392.9 626.4 392.7 628.3 392.6" stroke="#15ffe2"/>
<path d="M623.2 429.3 C623.6 428.8 624.6 427.1 625.5 426.0" stroke="#0066ff"/>
<path d="M625.5 426.0 C626.4 424.9 627.8 423.5 628.3 423.0" stroke="#008fff"/>
</g>
<rect x="391.7" y="209.4" width="236.6" height="219.9" fill="none" stroke="#222" stroke-width="1.0"/>
<rect x="643.6" y="209.5" width="10.7" height="219.7" fill="url(#jetg)" stroke="#222" stroke-width="0.9"/>
<text class="mt" x="648.2" y="204.4" font-size="9.6" text-anchor="middle" fill="#222">COHP</text>
<line x1="654.3" y1="224.0" x2="657.3" y2="224.0" stroke="#222" stroke-width="0.9"/>
<text class="mt" x="660.0" y="227.0" font-size="8.4" text-anchor="start" fill="#222" textLength="18.0" lengthAdjust="spacingAndGlyphs">0.15</text>
<line x1="654.3" y1="255.8" x2="657.3" y2="255.8" stroke="#222" stroke-width="0.9"/>
<text class="mt" x="660.0" y="258.8" font-size="8.4" text-anchor="start" fill="#222" textLength="18.0" lengthAdjust="spacingAndGlyphs">0.10</text>
<line x1="654.3" y1="287.6" x2="657.3" y2="287.6" stroke="#222" stroke-width="0.9"/>
<text class="mt" x="660.0" y="290.6" font-size="8.4" text-anchor="start" fill="#222" textLength="18.0" lengthAdjust="spacingAndGlyphs">0.05</text>
<line x1="654.3" y1="319.4" x2="657.3" y2="319.4" stroke="#222" stroke-width="0.9"/>
<text class="mt" x="660.0" y="322.4" font-size="8.4" text-anchor="start" fill="#222" textLength="18.0" lengthAdjust="spacingAndGlyphs">0.00</text>
<line x1="654.3" y1="351.1" x2="657.3" y2="351.1" stroke="#222" stroke-width="0.9"/>
<text class="mt" x="660.0" y="354.1" font-size="8.4" text-anchor="start" fill="#222" textLength="24.8" lengthAdjust="spacingAndGlyphs">–0.05</text>
<line x1="654.3" y1="382.9" x2="657.3" y2="382.9" stroke="#222" stroke-width="0.9"/>
<text class="mt" x="660.0" y="385.9" font-size="8.4" text-anchor="start" fill="#222" textLength="24.8" lengthAdjust="spacingAndGlyphs">–0.10</text>
<line x1="654.3" y1="414.7" x2="657.3" y2="414.7" stroke="#222" stroke-width="0.9"/>
<text class="mt" x="660.0" y="417.7" font-size="8.4" text-anchor="start" fill="#222" textLength="24.8" lengthAdjust="spacingAndGlyphs">–0.15</text>
</svg>
</body></html>
